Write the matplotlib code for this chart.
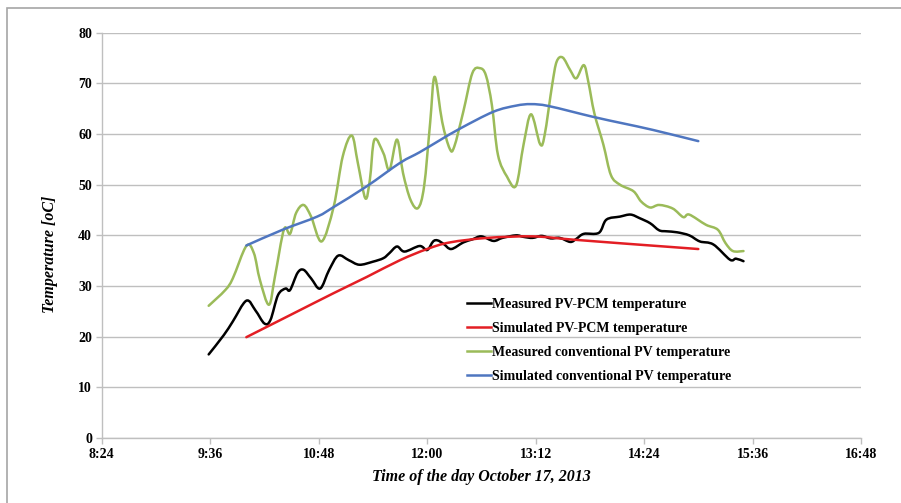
import matplotlib
matplotlib.use("Agg")
import matplotlib.pyplot as plt
from matplotlib.patches import Rectangle, PathPatch
from matplotlib.path import Path
from matplotlib.lines import Line2D
from matplotlib.ticker import FixedLocator, FuncFormatter

# times as clock strings, temperatures in degC
pcm_meas_t = ["9:35", "9:45", "9:51", "10:00", "10:06", "10:12", "10:16", "10:21", "10:26",
              "10:29", "10:34", "10:38", "10:43", "10:49", "10:55", "11:01", "11:08", "11:15",
              "11:24", "11:31", "11:35", "11:40", "11:45", "11:55", "12:00", "12:04", "12:07",
              "12:11", "12:16", "12:24", "12:30", "12:36", "12:44", "12:50", "12:59", "13:04",
              "13:10", "13:16", "13:22", "13:28", "13:35", "13:39", "13:44", "13:54", "13:59",
              "14:08", "14:15", "14:21", "14:28", "14:34", "14:39", "14:46", "14:54", "15:01",
              "15:10", "15:21", "15:25", "15:30"]
pcm_meas_v = [16.5, 20.3, 23.0, 27.1, 25.2, 22.6, 23.3, 28.2, 29.5,
              29.2, 32.6, 33.2, 31.5, 29.5, 33.2, 36.0, 35.1, 34.2,
              34.8, 35.5, 36.5, 37.8, 36.8, 37.9, 37.1, 38.8, 39.0,
              38.3, 37.3, 38.6, 39.2, 39.8, 38.9, 39.5, 40.0, 39.7,
              39.5, 39.9, 39.4, 39.5, 38.7, 39.3, 40.3, 40.5, 43.1,
              43.7, 44.1, 43.4, 42.4, 41.0, 40.8, 40.6, 40.0, 38.8,
              38.2, 35.2, 35.4, 34.9]

pcm_sim_t = ["10:00", "10:30", "10:58", "11:20", "11:42", "12:00", "12:15", "12:40",
             "13:10", "13:35", "14:10", "14:42", "15:00"]
pcm_sim_v = [19.9, 24.4, 28.6, 31.8, 35.1, 37.3, 38.6, 39.5,
             39.8, 39.2, 38.4, 37.7, 37.3]

pv_meas_t = ["9:35", "9:46", "9:51", "10:00", "10:05", "10:09", "10:15", "10:19", "10:25",
             "10:29", "10:33", "10:38", "10:43", "10:50", "10:58", "11:04", "11:10", "11:14",
             "11:19", "11:22", "11:25", "11:31", "11:35", "11:40", "11:44", "11:49", "11:54",
             "11:58", "12:02", "12:05", "12:10", "12:15", "12:18", "12:24", "12:30", "12:35",
             "12:39", "12:43", "12:47", "12:53", "12:59", "13:04", "13:09", "13:15", "13:18",
             "13:23", "13:26", "13:30", "13:35", "13:39", "13:44", "13:47", "13:51", "13:57",
             "14:02", "14:08", "14:17", "14:22", "14:28", "14:34", "14:43", "14:50", "14:54",
             "15:05", "15:13", "15:18", "15:23", "15:30"]
pv_meas_v = [26.1, 29.2, 31.5, 37.9, 36.5, 31.2, 26.3, 31.9, 41.2,
             40.3, 44.4, 46.0, 43.7, 38.8, 45.7, 55.6, 59.7, 54.3,
             47.3, 51.0, 58.9, 56.2, 52.9, 58.9, 52.3, 47.0, 45.4,
             49.7, 62.2, 71.3, 62.4, 57.1, 57.5, 64.4, 72.0, 73.0,
             71.6, 65.7, 55.9, 51.6, 49.8, 57.9, 63.9, 58.0, 59.8,
             69.7, 74.3, 75.1, 72.6, 71.0, 73.6, 70.3, 64.1, 57.9,
             51.9, 50.0, 48.7, 46.7, 45.5, 46.0, 45.3, 43.6, 44.1,
             42.1, 41.1, 38.5, 36.9, 36.9]

pv_sim_t = ["10:00", "10:24", "10:47", "10:58", "11:20", "11:42", "11:55", "12:08", "12:22",
            "12:44", "12:59", "13:09", "13:21", "13:50", "14:10", "14:30", "15:00"]
pv_sim_v = [38.0, 41.1, 43.7, 45.6, 49.7, 54.3, 56.4, 58.7, 61.1,
            64.4, 65.6, 65.9, 65.5, 63.4, 62.1, 60.8, 58.6]

tick_labels = ["8:24", "9:36", "10:48", "12:00", "13:12", "14:24", "15:36", "16:48"]


def to_min(s):
    h, m = s.split(":")
    return int(h) * 60 + int(m)


def smooth_path(xs, ys):
    # Excel-style "smoothed line": Catmull-Rom segments drawn as cubic Beziers
    pts = list(zip(xs, ys))
    verts = [pts[0]]
    codes = [Path.MOVETO]
    n = len(pts)
    for i in range(n - 1):
        p0 = pts[i - 1] if i > 0 else pts[i]
        p1 = pts[i]
        p2 = pts[i + 1]
        p3 = pts[i + 2] if i + 2 < n else pts[i + 1]
        c1 = (p1[0] + (p2[0] - p0[0]) / 6, p1[1] + (p2[1] - p0[1]) / 6)
        c2 = (p2[0] - (p3[0] - p1[0]) / 6, p2[1] - (p3[1] - p1[1]) / 6)
        verts += [c1, c2, p2]
        codes += [Path.CURVE4] * 3
    return Path(verts, codes)


serif = ["Liberation Serif", "DejaVu Serif"]
plt.rcParams["font.family"] = serif

fig = plt.figure(figsize=(9.01, 5.03), dpi=100)
ax = fig.add_axes([0.1129, 0.1292, 0.8427, 0.8058])

# frame around the whole picture (only top and left edges visible)
top = 1 - 8 / 503
fig.add_artist(Rectangle((7 / 901, -0.2), 1.2, top + 0.2,
                         transform=fig.transFigure, fill=False, edgecolor="#a6a6a6",
                         linewidth=1.2, clip_on=False))

series = [
    (pcm_meas_t, pcm_meas_v, "#000000", "Measured PV-PCM temperature"),
    (pcm_sim_t, pcm_sim_v, "#e31e24", "Simulated PV-PCM temperature"),
    (pv_meas_t, pv_meas_v, "#9bbb59", "Measured conventional PV temperature"),
    (pv_sim_t, pv_sim_v, "#4f76c0", "Simulated conventional PV temperature"),
]
handles = []
for t, v, c, lab in series:
    x = [to_min(s) for s in t]
    ax.add_patch(PathPatch(smooth_path(x, v), facecolor="none", edgecolor=c, lw=1.8,
                           joinstyle="round", capstyle="round"))
    handles.append(Line2D([], [], color=c, lw=1.8, label=lab))

ax.set_xlim(to_min("8:24"), to_min("16:48"))
ax.set_ylim(0, 80)
ax.xaxis.set_major_locator(FixedLocator([to_min(s) for s in tick_labels]))
ax.xaxis.set_major_formatter(FuncFormatter(lambda x, p: "%d:%02d" % (int(x) // 60, int(x) % 60)))
ax.set_yticks(range(0, 81, 10))
ax.yaxis.grid(True, color="#bfbfbf", lw=1.0)
ax.set_axisbelow(True)

for s in ["top", "right"]:
    ax.spines[s].set_visible(False)
for s in ["left", "bottom"]:
    ax.spines[s].set_color("#bfbfbf")
    ax.spines[s].set_linewidth(1.0)
ax.tick_params(axis="both", direction="out", length=4, color="#bfbfbf", width=1.0,
               labelsize=10, pad=3)
for lab in ax.get_xticklabels() + ax.get_yticklabels():
    lab.set_fontweight("bold")

ax.set_xlabel("Time of the day October 17, 2013", fontsize=11.5, fontweight="bold",
              fontstyle="italic", labelpad=6)
ax.set_ylabel("Temperature [oC]", fontsize=11.5, fontweight="bold", fontstyle="italic")
ax.yaxis.set_label_coords(-0.058, 0.452)

leg = ax.legend(handles=handles, loc="upper left", bbox_to_anchor=(0.481, 0.346),
                frameon=False, borderpad=0, borderaxespad=0, handlelength=1.7,
                handletextpad=0.1, labelspacing=0.8,
                prop={"family": serif, "weight": "bold", "size": 10})

fig.savefig("out.png", dpi=100)
